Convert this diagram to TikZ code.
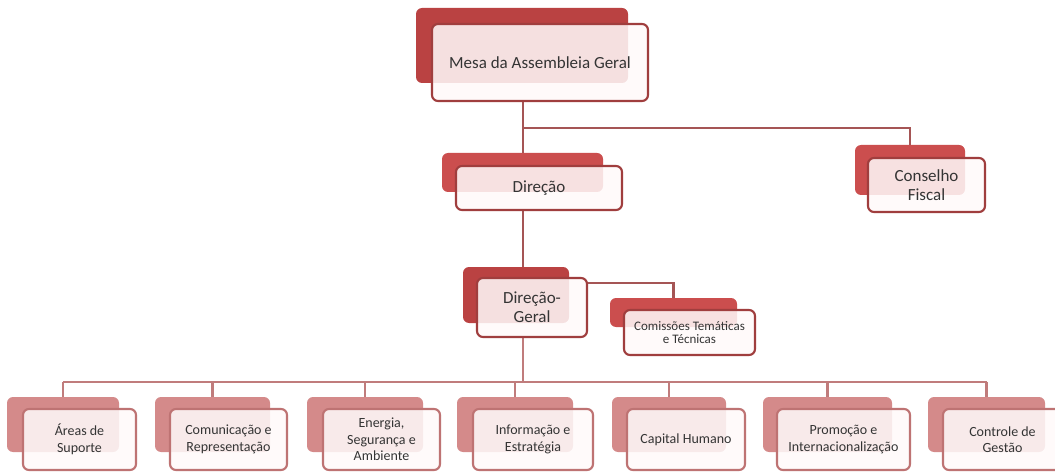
\documentclass[tikz,border=0pt]{standalone}
\usepackage{fontspec}
\setmainfont{Carlito}
\definecolor{backA}{RGB}{186,66,66}
\definecolor{backB}{RGB}{203,78,78}
\definecolor{backC}{RGB}{212,138,138}
\definecolor{bordA}{RGB}{160,62,62}
\definecolor{bordC}{RGB}{190,115,115}
\definecolor{lineA}{RGB}{165,85,85}
\definecolor{lineC}{RGB}{192,124,124}
\definecolor{txt}{RGB}{52,52,52}
\definecolor{frontfill}{RGB}{255,250,250}
\begin{document}
\begin{tikzpicture}[x=1pt,y=-1pt,
  backbox/.style={rectangle,rounded corners=6pt,inner sep=0pt,draw=none},
  frontbox/.style={rectangle,rounded corners=6pt,inner sep=0pt,line width=2.1pt,
    fill=frontfill,fill opacity=0.86,text opacity=1,text=txt,align=center},
  bigtxt/.style={font=\fontsize{17}{19}\selectfont},
  smalltxt/.style={font=\fontsize{14}{16.5}\selectfont},
  tinytxt/.style={font=\fontsize{13}{13.5}\selectfont},
  connA/.style={draw=lineA,line width=2.1pt},
  connC/.style={draw=lineC,line width=2.1pt}]
\clip (0,0) rectangle (1055,473);
\fill[white] (0,0) rectangle (1055,473);

% junction coordinates
\coordinate (j1) at (523,128);
\coordinate (j2) at (600,283);
\coordinate (j3) at (523,382);

% back boxes
\node[backbox,fill=backA,minimum width=212pt,minimum height=75pt] (mesab) at (522,45.5) {};
\node[backbox,fill=backB,minimum width=161pt,minimum height=39pt] (dirb) at (522.5,172.5) {};
\node[backbox,fill=backB,minimum width=110pt,minimum height=50pt] (consb) at (910,170) {};
\node[backbox,fill=backA,minimum width=106pt,minimum height=56pt] (dgb) at (516,295) {};
\node[backbox,fill=backB,minimum width=127pt,minimum height=29pt] (comb) at (673.5,312.5) {};
\node[backbox,fill=backC,minimum width=112pt,minimum height=55pt] (areasb) at (63,424.5) {};
\node[backbox,fill=backC,minimum width=115pt,minimum height=55pt] (comub) at (212.5,424.5) {};
\node[backbox,fill=backC,minimum width=116pt,minimum height=55pt] (enerb) at (365,424.5) {};
\node[backbox,fill=backC,minimum width=116pt,minimum height=55pt] (infob) at (515,424.5) {};
\node[backbox,fill=backC,minimum width=114pt,minimum height=55pt] (capb) at (669,424.5) {};
\node[backbox,fill=backC,minimum width=129pt,minimum height=55pt] (promb) at (827.5,424.5) {};
\node[backbox,fill=backC,minimum width=117pt,minimum height=55pt] (ctrlb) at (986.5,424.5) {};

% connectors
\draw[connA] (j1 |- 0,101) -- (j1);
\draw[connA] (j1) -- (dirb.north -| j1);
\draw[connA] (j1) -| (consb.north);
\draw[connA] (j1 |- 0,210) -- (dgb.north -| j1);
\draw[connA] (j2) -| (comb.north);
\draw[connA] (j2) -- (j2 -| 587,0);
\draw[connC] (j3 |- 0,337) -- (j3);
\draw[connC] (areasb.north |- j3) -- (ctrlb.north |- j3);
\foreach \b in {areasb,comub,enerb,infob,capb,promb,ctrlb}
  \draw[connC] (\b.north |- j3) -- (\b.north);

% front boxes
\node[frontbox,draw=bordA,bigtxt,minimum width=216pt,minimum height=77pt] (mesa) at (540,62.5) {Mesa da Assembleia Geral};
\node[frontbox,draw=bordA,bigtxt,minimum width=166pt,minimum height=44pt] (dir) at (539,188) {Direção};
\node[frontbox,draw=bordA,bigtxt,minimum width=117pt,minimum height=54pt] (cons) at (926.5,185) {Conselho\\Fiscal};
\node[frontbox,draw=bordA,bigtxt,minimum width=110pt,minimum height=59pt] (dg) at (532,307.5) {Direção-\\Geral};
\node[frontbox,draw=bordA,tinytxt,minimum width=131pt,minimum height=45pt] (com) at (689.5,332.5) {Comissões Temáticas\\e Técnicas};
\node[frontbox,draw=bordC,smalltxt,minimum width=113pt,minimum height=61pt] (areas) at (79.5,439.5) {Áreas de\\Suporte};
\node[frontbox,draw=bordC,smalltxt,minimum width=117pt,minimum height=61pt] (comu) at (228.5,439.5) {Comunicação e\\Representação};
\node[frontbox,draw=bordC,smalltxt,minimum width=117pt,minimum height=61pt] (ener) at (381.5,439.5) {Energia,\\Segurança e\\Ambiente};
\node[frontbox,draw=bordC,smalltxt,minimum width=120pt,minimum height=61pt] (info) at (533,439.5) {Informação e\\Estratégia};
\node[frontbox,draw=bordC,smalltxt,minimum width=118pt,minimum height=61pt] (cap) at (686,439.5) {Capital Humano};
\node[frontbox,draw=bordC,smalltxt,minimum width=133pt,minimum height=61pt] (prom) at (843.5,439.5) {Promoção e\\Internacionalização};
\node[frontbox,draw=bordC,smalltxt,minimum width=119pt,minimum height=61pt] (ctrl) at (1002.5,439.5) {Controle de\\Gestão};
\end{tikzpicture}
\end{document}
